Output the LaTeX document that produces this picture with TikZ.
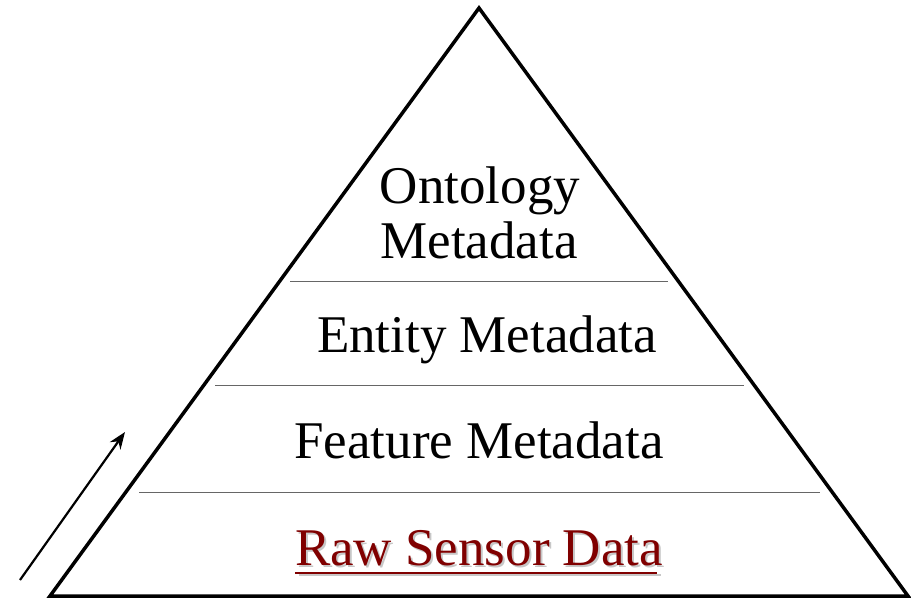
\documentclass[tikz,border=0pt]{standalone}
\usepackage{fontspec}
\setmainfont{Liberation Serif}
\usetikzlibrary{arrows.meta}
\definecolor{rawred}{RGB}{128,0,0}
\tikzset{
  lbl/.style={anchor=base, inner sep=0pt, font=\fontsize{53}{53}\selectfont},
  divider/.style={line width=1pt, draw=black!60},
}
\begin{document}
\begin{tikzpicture}[x=1pt,y=-1pt]
\useasboundingbox (0,0) rectangle (911,600);
\coordinate (apex) at (479,8);
\coordinate (bl) at (50,596);
\coordinate (br) at (908,596);
\draw[line width=3.5pt, line join=miter] (apex) -- (br) -- (bl) -- cycle;
\coordinate (d1a) at (290,281); \coordinate (d1b) at (668,281);
\coordinate (d2a) at (215,385); \coordinate (d2b) at (744,385);
\coordinate (d3a) at (139,492); \coordinate (d3b) at (820,492);
\draw[divider] (d1a) -- (d1b);
\draw[divider] (d2a) -- (d2b);
\draw[divider] (d3a) -- (d3b);
\node[lbl] (onto) at (480,203) {Ontology};
\node[lbl] (ometa) at (479,258) {Metadata};
\node[lbl] (entity) at (487,352) {Entity Metadata};
\node[lbl] (feature) at (479,458) {Feature Metadata};
% shadow
\node[lbl, text=black!22] (rawsh) at (481,567) {Raw Sensor Data};
\draw[black!22, line width=2pt] ([xshift=2pt]rawsh.base west) ++(0,8) -- ++(362,0);
\node[lbl, text=rawred] (raw) at (479,565) {Raw Sensor Data};
\draw[rawred, line width=2pt] (raw.base west) ++(0,8) -- ++(362,0);
\coordinate (a1) at (20,580);
\coordinate (a2) at (125,432);
\draw[line width=2.2pt, -{Stealth[length=17pt,width=13pt]}] (a1) -- (a2);
\end{tikzpicture}
\end{document}
